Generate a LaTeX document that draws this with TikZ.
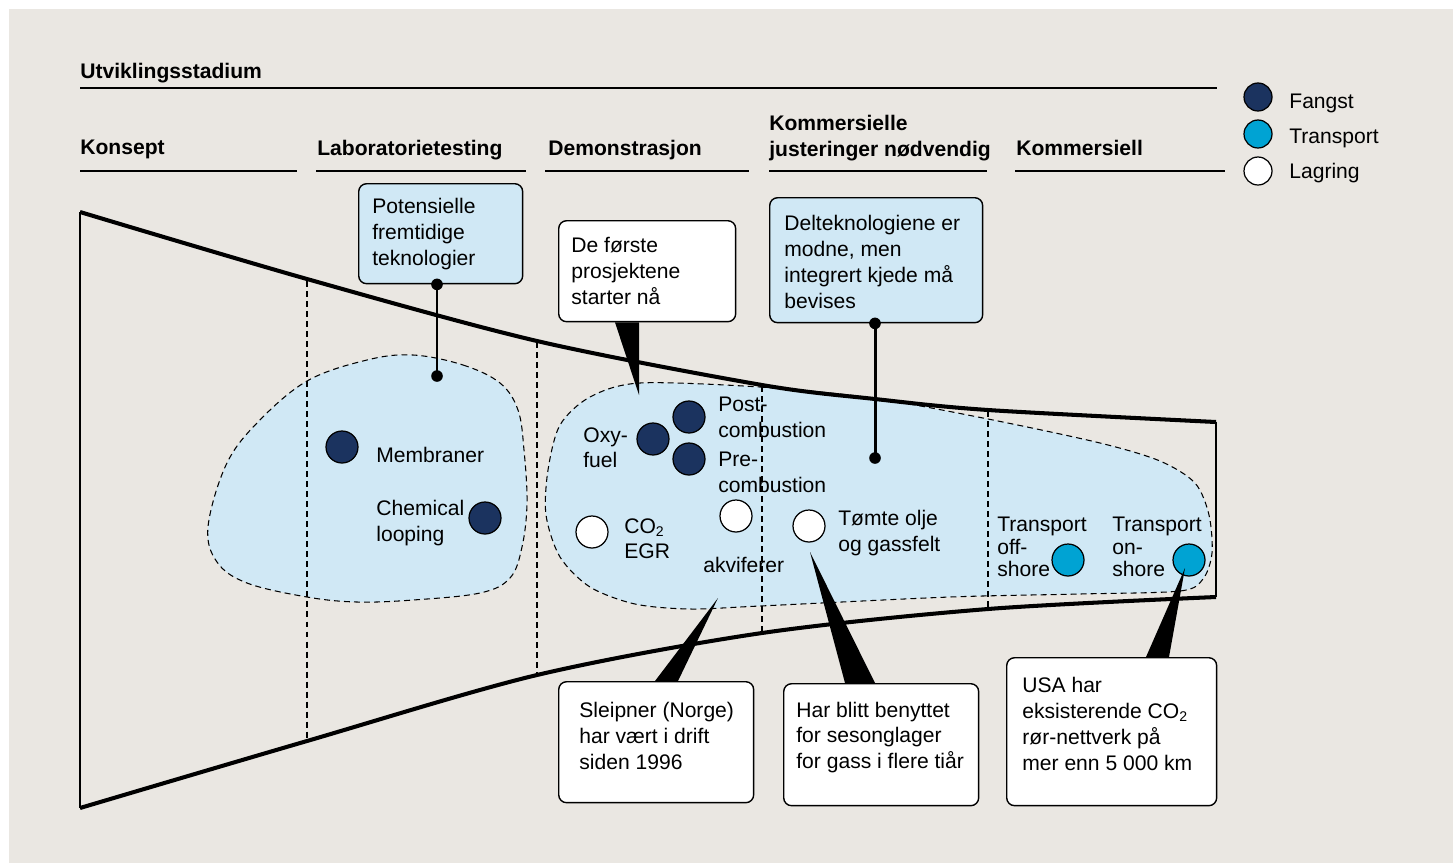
\documentclass[tikz,border=0pt]{standalone}
\usepackage{fontspec}
\setmainfont{Liberation Sans}
\usetikzlibrary{positioning,calc}
\definecolor{bggray}{HTML}{EAE7E2}
\definecolor{fangstblue}{HTML}{1B335F}
\definecolor{transpblue}{HTML}{00A3D3}
\definecolor{blobblue}{HTML}{D0E8F5}

\begin{document}
\begin{tikzpicture}[x=0.02cm, y=-0.02cm,
    every node/.style={font=\fontsize{12}{14.7}\selectfont, inner sep=0pt},
    txt/.style={anchor=north west, align=left},
    head/.style={txt, font=\fontsize{12}{14.7}\selectfont\bfseries},
    tight/.style={txt, font=\fontsize{12}{12.6}\selectfont},
    dot/.style={circle, draw=black, line width=0.7pt, minimum size=0.64cm},
    fangst/.style={dot, fill=fangstblue},
    transp/.style={dot, fill=transpblue},
    lagring/.style={dot, fill=white},
    key/.style={minimum size=0.56cm},
    infobox/.style={draw=black, line width=0.8pt, rounded corners=4.5pt, fill=white, anchor=north west},
    bluebox/.style={infobox, fill=blobblue},
    blob/.style={fill=blobblue, draw=black, line width=0.6pt, dash pattern=on 3.4pt off 2.3pt},
    stage/.style={draw=black, line width=0.6pt, dash pattern=on 3.4pt off 2.3pt},
    rim/.style={line width=2.3pt},
    rule/.style={line width=0.85pt},
    stick/.style={line width=1.7pt},
    wedge/.style={fill=black}
    ]
\fill[white] (0,0) rectangle (1453,863);
\fill[bggray] (9,9) rectangle (1453,863);
\useasboundingbox (0,0) rectangle (1453,863);

% headings
\node[head] (utv) at (80,63) {Utviklingsstadium};
\draw[rule] (80,88) -- (1217,88);
\node[head] (konsept) at (80,140) {Konsept};
\node[head] (lab) at (317,140) {Laboratorietesting};
\node[head] (demo) at (548,140) {Demonstrasjon};
\node[head] (justering) at (769,115) {Kommersielle\\justeringer nødvendig};
\node[head] (kommersiell) at (1016,140) {Kommersiell};
\draw[rule] (80,171) -- (297,171);
\draw[rule] (316,171) -- (526,171);
\draw[rule] (545,171) -- (749,171);
\draw[rule] (769,171) -- (987,171);
\draw[rule] (1015,171) -- (1225,171);

% legend
\node[fangst, key] (legF) at (1258,97) {};
\node[transp, key] (legT) at (1258,134) {};
\node[lagring, key] (legL) at (1258,171) {};
\node[anchor=base west] (legFtext) at (1289,108) {Fangst};
\node[anchor=base west] (legTtext) at (1289,143) {Transport};
\node[anchor=base west] (legLtext) at (1289,178) {Lagring};

% clouds
\draw[blob] plot[smooth cycle, tension=0.6] coordinates {
  (413,355) (463,365) (500,383) (518,410) (524,450) (527,503) (522,547)
  (510,578) (480,593) (413,600) (357,602) (307,597) (247,583) (217,562)
  (208,527) (226,465) (257,423) (307,381) (367,360)};
\draw[blob] plot[smooth cycle, tension=0.5] coordinates {
  (640,383) (760,387) (873,398) (988,419) (1100,443) (1160,461) (1195,483)
  (1209,515) (1212,553) (1203,579) (1180,591) (1080,594) (950,597)
  (760,606) (690,609) (635,604) (590,587) (560,557) (546,515) (548,470)
  (560,425) (590,397)};

% stages
\foreach \xs/\yt/\yb in {307/281/741, 537/342/674, 762/386/633, 988/411/608}
  \draw[stage] (\xs,\yt) -- (\xs,\yb);

% funnel
\draw[rim] plot[smooth, tension=0.5] coordinates {(80,212) (307,279) (537,341) (762,385) (875,399) (988,410) (1216,422)};
\draw[rim] plot[smooth, tension=0.5] coordinates {(80,808) (307,741) (537,675) (762,633) (988,609) (1216,597)};
\draw[rule] (80,212) -- (80,808);
\draw[rule] (1216,422) -- (1216,597);

% technologies
\node[fangst] (membr) at (342,447) {};
\node[txt] (membrtext) at (376,447) {Membraner};
\node[fangst] (chem) at (485,518) {};
\node[txt] (chemtext) at (376,500) {Chemical\\looping};
\node[fangst] (oxy) at (653,439) {};
\node[txt] (oxytext) at (583,427) {Oxy-\\fuel};
\node[fangst] (post) at (689,417) {};
\node[txt] (posttext) at (718,397) {Post-\\combustion};
\node[fangst] (pre) at (689,459) {};
\node[txt] (pretext) at (718,452) {Pre-\\combustion};
\node[lagring] (egr) at (592,532) {};
\node[txt] (egrtext) at (624,518) {CO\textsubscript{2}\\EGR};
\node[lagring] (akvi) at (736,516) {};
\node[txt] (akvitext) at (703,557) {akviferer};
\node[lagring] (felt) at (809,526) {};
\node[txt] (felttext) at (838,510) {Tømte olje\\og gassfelt};
\node[transp] (offsh) at (1068,560) {};
\node[tight] (offshtext) at (997,517) {Transport\\off-\\shore};
\node[transp] (onsh) at (1189,560) {};
\node[tight] (onshtext) at (1112,517) {Transport\\on-\\shore};

% callouts
\node[bluebox, minimum width=3.28cm, minimum height=2cm] (potbox) at (358,183) {};
\node[txt, below right=0.30cm and 0.28cm of potbox.north west] (pottext) {Potensielle\\fremtidige\\teknologier};
\node[infobox, minimum width=3.54cm, minimum height=2.02cm] (forstebox) at (558,220) {};
\node[txt, below right=0.34cm and 0.26cm of forstebox.north west] (forstetext) {De første\\prosjektene\\starter nå};
\node[bluebox, minimum width=4.26cm, minimum height=2.5cm] (deltbox) at (769,197) {};
\node[txt, below right=0.36cm and 0.30cm of deltbox.north west] (delttext) {Delteknologiene er\\modne, men\\integrert kjede må\\bevises};
\node[infobox, minimum width=3.9cm, minimum height=2.42cm] (sleipbox) at (558,681) {};
\node[txt, below right=0.42cm and 0.42cm of sleipbox.north west] (sleiptext) {Sleipner (Norge)\\har vært i drift\\siden 1996};
\node[infobox, minimum width=3.9cm, minimum height=2.44cm] (harbox) at (783,683) {};
\node[txt, below right=0.37cm and 0.26cm of harbox.north west] (hartext) {Har blitt benyttet\\for sesonglager\\for gass i flere tiår};
\node[infobox, minimum width=4.2cm, minimum height=2.96cm] (usabox) at (1006,657) {};
\node[txt, below right=0.40cm and 0.32cm of usabox.north west] (usatext) {USA har\\eksisterende CO\textsubscript{2}\\rør-nettverk på\\mer enn 5 000 km};

\coordinate (potdot) at (437,376);
\coordinate (deltdot) at (875,458);
\coordinate (forstetip) at (639,395);
\coordinate (sleiptip) at (718,598);
\coordinate (hartip) at (810,552);
\coordinate (usatip) at (1185,568);

\draw[stick] (potdot |- potbox.south) -- (potdot);
\fill (potdot |- potbox.south) circle[radius=3.3pt] (potdot) circle[radius=3.3pt];
\draw[stick] (deltdot |- deltbox.south) -- (deltdot);
\fill (deltdot |- deltbox.south) circle[radius=3.3pt] (deltdot) circle[radius=3.3pt];

\fill[wedge] ($(forstebox.south west)+(57,0)$) -- ($(forstebox.south west)+(81,0)$) -- (forstetip) -- cycle;
\fill[wedge] ($(sleipbox.north west)+(97,0)$) -- ($(sleipbox.north west)+(120,0)$) -- (sleiptip) -- cycle;
\fill[wedge] ($(harbox.north west)+(62,0)$) -- ($(harbox.north west)+(92,0)$) -- (hartip) -- cycle;
\fill[wedge] ($(usabox.north west)+(140,0)$) -- ($(usabox.north west)+(163,0)$) -- (usatip) -- cycle;
\end{tikzpicture}
\end{document}
